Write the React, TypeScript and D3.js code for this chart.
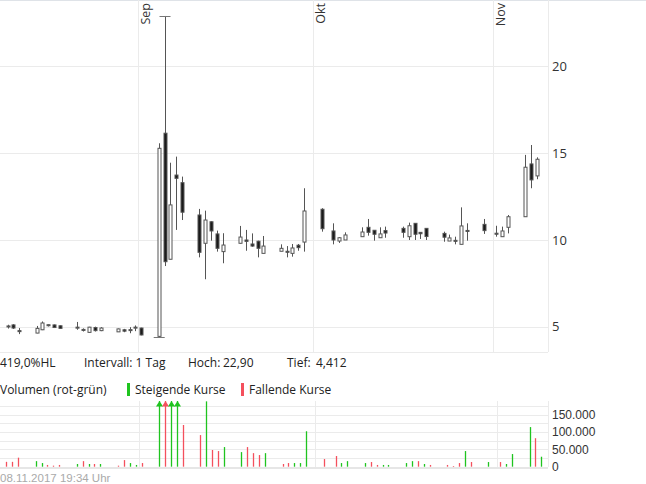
import React from "react";
import * as d3 from "d3";

const dates = [
  "2017-08-09","2017-08-10","2017-08-11","2017-08-14","2017-08-15","2017-08-16","2017-08-17","2017-08-18",
  "2017-08-21","2017-08-22","2017-08-23","2017-08-24","2017-08-25","2017-08-28","2017-08-29","2017-08-30",
  "2017-08-31","2017-09-01","2017-09-04","2017-09-05","2017-09-06","2017-09-07","2017-09-08","2017-09-11",
  "2017-09-12","2017-09-13","2017-09-14","2017-09-15","2017-09-18","2017-09-19","2017-09-20","2017-09-21",
  "2017-09-22","2017-09-25","2017-09-26","2017-09-27","2017-09-28","2017-09-29","2017-10-02","2017-10-04",
  "2017-10-05","2017-10-06","2017-10-09","2017-10-10","2017-10-11","2017-10-12","2017-10-13","2017-10-16",
  "2017-10-17","2017-10-18","2017-10-19","2017-10-20","2017-10-23","2017-10-24","2017-10-25","2017-10-26",
  "2017-10-27","2017-10-30","2017-11-01","2017-11-02","2017-11-03","2017-11-06","2017-11-07","2017-11-08",
];
const opens = [
  5.03,5.11,4.78,4.64,4.83,5.12,5.11,5.06, 4.97,4.85,4.68,4.96,4.78,4.71,4.83,4.82,
  4.95,4.93,4.45,16.15,8.89,13.74,13.3,11.44, 9.81,11.05,10.35,9.33,9.81,10.0,9.77,9.93,
  9.23,9.35,9.35,9.23,9.7,9.88,11.77,10.52, 9.94,10.0,10.19,10.73,10.56,10.13,10.54,10.67,
  10.19,10.96,10.44,10.67,10.38,9.94,9.98,9.75, 10.55,10.9,10.39,10.19,10.73,11.34,14.38,13.69,
];
const highs = [
  5.12,5.15,4.93,5.05,5.31,5.13,5.13,5.08, 5.28,4.91,5.0,5.01,4.98,4.9,4.88,4.98,
  5.08,4.95,15.57,22.9,14.45,14.8,13.65,11.79, 11.69,11.08,10.54,10.39,10.81,10.58,10.38,9.96,
  10.23,9.75,9.65,9.77,9.77,12.98,11.83,10.96, 10.17,10.44,10.73,11.21,10.56,10.73,10.77,10.77,
  11.0,10.96,10.44,10.67,10.48,10.31,10.19,11.88, 10.96,11.21,10.82,10.77,11.44,14.9,15.47,14.76,
];
const lows = [
  4.9,4.88,4.58,4.63,4.81,5.02,4.93,4.9, 4.83,4.73,4.66,4.73,4.75,4.7,4.69,4.63,
  4.75,4.51,4.412,8.5,8.89,10.58,11.15,9.0, 7.74,9.96,9.33,8.66,9.8,9.38,9.61,9.0,
  9.23,9.35,9.0,9.04,9.38,9.33,10.48,9.75, 9.83,10.0,10.19,10.25,9.96,10.13,10.13,10.13,
  10.0,10.0,10.06,10.0,9.9,9.94,9.75,9.75, 9.96,10.35,10.19,10.19,10.38,11.34,12.98,13.5,
];
const closes = [
  5.05,4.93,4.76,4.91,5.22,5.1,4.96,4.91, 4.98,4.83,4.98,4.78,4.93,4.88,4.75,4.84,
  4.98,4.53,15.28,8.75,12.02,13.55,11.6,9.29, 11.15,10.52,9.52,9.71,10.17,9.92,9.65,9.52,
  9.65,9.52,9.33,9.54,9.56,11.67,10.65,10.0, 10.13,10.29,10.46,10.44,10.33,10.35,10.4,10.44,
  10.82,10.33,10.36,10.2,10.16,10.12,9.97,10.81, 10.5,10.54,10.37,10.52,11.34,14.19,13.46,14.65,
];
const volumes = [
  14000,14000,26000,16000,10500,5000,3000,5000, 7700,16000,7700,7700,7700,3000,19000,10500,
  5000,10500,1450000,980000,520000,310000,120000,91000, 188000,48000,45000,56500,42000,56500,39000,33500,
  39000,7700,10500,10500,10500,102000,22000,30700, 10500,16000,10500,13400,5000,5000,5000,10500,
  16000,16000,7700,5000,5000,2000,10500,45000, 13400,13400,13400,7700,36400,114000,82000,28700,
];
const priorClose = 5.1;

const priceTicks = [5, 10, 15, 20];
const volumeTicks = [0, 50000, 100000, 150000];
const volumeGrid = [25000, 50000, 75000, 100000, 125000, 150000, 175000];
const monthTicks = ["2017-09-01", "2017-10-01", "2017-11-01"];
const monthLabels = ["Sep", "Okt", "Nov"];

const W = 646, H = 484;
const PLOT_R = 548;
const FONT = "'Open Sans', 'Noto Sans', sans-serif";
const GRID = "#ebebeb";
const CANDLE = "#555";
const UP = "#1fc41f";
const DOWN = "#f4505d";

const parse = (s: string) => new Date(s + "T00:00:00Z");
const DAY = 86400000;

export default function App() {
  const domain = [parse("2017-08-09"), parse("2017-11-09")];
  const x = d3.scaleUtc().domain(domain).range([4.6, 539.6]);
  const xv = d3.scaleUtc().domain(domain).range([3.36, 544.2]);
  const y = d3.scaleLinear().domain([3.55, 23.82]).range([352, 0]);
  const vMax = 189000;
  const yv = d3.scaleLinear().domain([0, vMax]).range([466.7, 401]);
  const fmtV = (v: number) => d3.format(",")(v).replace(/,/g, ".");

  const mid = (s: string) => new Date(parse(s).getTime() + DAY / 2);
  const maxIdx = d3.maxIndex(highs);
  const minIdx = d3.minIndex(lows);

  return (
    <div style={{ position: "absolute", left: 0, top: 0 }}>
      <svg width={W} height={H} style={{ display: "block", background: "#fff" }} fontFamily={FONT}>
        {/* top frame */}
        <line x1={0} x2={W} y1={0.5} y2={0.5} stroke="#dfe3e8" />
        {/* price grid */}
        {priceTicks.map((t) => (
          <g key={t}>
            <line x1={0} x2={PLOT_R} y1={Math.round(y(t)) + 0.5} y2={Math.round(y(t)) + 0.5} stroke={GRID} />
            <text x={552} y={y(t)} dy="0.36em" fontSize={13} fill="#333">{t}</text>
          </g>
        ))}
        {monthTicks.map((m, i) => {
          const mx = Math.round(x(parse(m))) + 0.5;
          return (
            <g key={m}>
              <line x1={mx} x2={mx} y1={0} y2={352} stroke={GRID} />
              <text transform={`translate(${mx + 11},3) rotate(-90)`} textAnchor="end" fontSize={12.5} fill="#333">
                {monthLabels[i]}
              </text>
            </g>
          );
        })}
        <line x1={PLOT_R + 0.5} x2={PLOT_R + 0.5} y1={0} y2={352} stroke={GRID} />
        <line x1={0} x2={PLOT_R} y1={352.5} y2={352.5} stroke={GRID} />

        {/* candles */}
        {dates.map((d, i) => {
          const cx = Math.round(x(mid(d))) + 0.5;
          const o = opens[i], c = closes[i];
          const up = c >= o;
          const top = y(Math.max(o, c));
          const bot = y(Math.min(o, c));
          const h = Math.max(1, bot - top);
          return (
            <g key={d}>
              <line x1={cx} x2={cx} y1={y(highs[i])} y2={y(lows[i])} stroke={CANDLE} strokeWidth={1} />
              <rect x={cx - 1.5} y={top} width={3} height={h} fill={up ? "#fff" : "#1a1a1a"} stroke={CANDLE} strokeWidth={1} />
            </g>
          );
        })}
        {/* extreme markers */}
        <line x1={x(mid(dates[maxIdx])) - 5} x2={x(mid(dates[maxIdx])) + 6} y1={Math.round(y(highs[maxIdx])) + 0.5} y2={Math.round(y(highs[maxIdx])) + 0.5} stroke="#777" />
        <line x1={x(mid(dates[minIdx])) - 5} x2={x(mid(dates[minIdx])) + 6} y1={Math.round(y(lows[minIdx])) + 0.5} y2={Math.round(y(lows[minIdx])) + 0.5} stroke="#777" />

        {/* info row */}
        <g fontSize={12} fill="#222">
          <text x={0} y={367}>419,0%HL</text>
          <text x={84} y={367}>Intervall: 1 Tag</text>
          <text x={188} y={367}>Hoch:</text>
          <text x={223} y={367}>22,90</text>
          <text x={287} y={367}>Tief:</text>
          <text x={316} y={367}>4,412</text>
        </g>
        <g fontSize={12} fill="#222">
          <text x={0} y={394}>Volumen (rot-grün)</text>
          <rect x={127} y={383} width={3} height={13} fill={UP} />
          <text x={135} y={394}>Steigende Kurse</text>
          <rect x={241} y={383} width={3} height={13} fill={DOWN} />
          <text x={249} y={394}>Fallende Kurse</text>
        </g>

        {/* volume panel */}
        {volumeGrid.map((t) => (
          <line key={t} x1={0} x2={PLOT_R} y1={Math.round(yv(t)) + 0.5} y2={Math.round(yv(t)) + 0.5} stroke={GRID} />
        ))}
        {monthTicks.map((m) => {
          const mx = Math.round(xv(parse(m))) + 0.5;
          return <line key={m} x1={mx} x2={mx} y1={401} y2={467} stroke={GRID} />;
        })}
        <line x1={PLOT_R + 0.5} x2={PLOT_R + 0.5} y1={401} y2={467} stroke={GRID} />
        <line x1={0} x2={PLOT_R} y1={468} y2={468} stroke="#e6e6e6" strokeWidth={2} />
        {volumeTicks.map((t) => (
          <text key={t} x={552} y={yv(t)} dy="0.36em" fontSize={12} fill="#333" fontFamily="'Liberation Sans', Arial, sans-serif">
            {fmtV(t)}
          </text>
        ))}
        {dates.map((d, i) => {
          const prev = i === 0 ? priorClose : closes[i - 1];
          const col = closes[i] >= prev ? UP : DOWN;
          const vx = Math.round(xv(mid(d))) + 0.5;
          const over = volumes[i] > vMax;
          const yt = yv(Math.min(volumes[i], vMax));
          return (
            <g key={d}>
              <line x1={vx} x2={vx} y1={yv(0)} y2={yt} stroke={col} strokeWidth={1.3} />
              {over && <path d={`M${vx},${yt} L${vx - 3.5},${yt + 5.5} L${vx + 3.5},${yt + 5.5} Z`} fill={col} />}
            </g>
          );
        })}

        <text x={0} y={482} fontSize={11.5} fill="#aaa" fontFamily="'Liberation Sans', Arial, sans-serif">
          08.11.2017 19:34 Uhr
        </text>
      </svg>
    </div>
  );
}
